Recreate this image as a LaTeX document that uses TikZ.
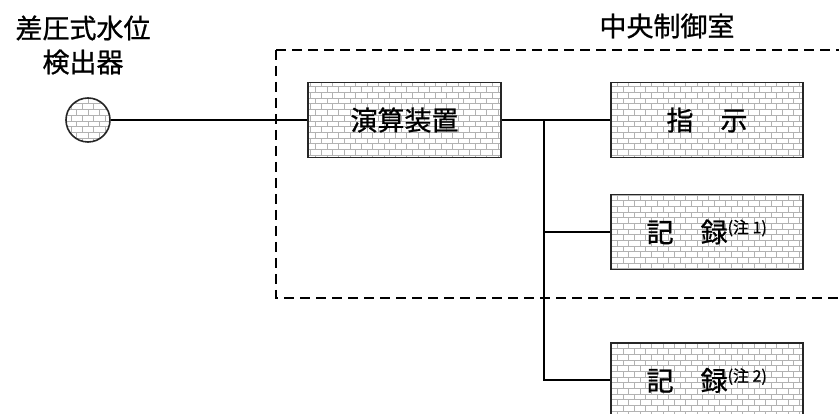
\documentclass[tikz,border=0pt]{standalone}
\usepackage{fontspec}
\setmainfont{Noto Sans CJK JP}[FakeBold=0.8]
\usepackage{tikz}
\usetikzlibrary{positioning, patterns}

\begin{document}
\begin{tikzpicture}[x=1pt, y=-1pt,
    every node/.style={font=\fontsize{27}{34}\selectfont},
    unit/.style={draw=black!85, line width=1.9pt, pattern=bricks, pattern color=black!30,
      minimum width=192pt, minimum height=75pt, inner sep=0pt},
    wire/.style={line width=1.8pt},
    room/.style={line width=1.8pt, dash pattern=on 10pt off 6pt}]
    \clip (0,0) rectangle (839,414);
    \fill[white] (0,0) rectangle (839,414);

    % detector and its label
    \node[draw=black!85, line width=1.6pt, circle, minimum size=44pt, inner sep=0pt,
      pattern=bricks, pattern color=black!30] (det) at (88,120) {};
    \node[align=center] (detlabel) at (83,45) {差圧式水位\\検出器};

    % central control room
    \draw[room] (276,50) -- (850,50);
    \draw[room] (276,50) -- (276,298) -- (850,298);
    \node (roomlabel) at (667,26) {中央制御室};

    % units
    \node[unit, minimum width=193pt] (calc) at (404.5,120) {演算装置};
    \node[unit] (ind) at (707,120) {指\hspace{1em}示};
    \node[unit] (rec1) at (707,232) {記\hspace{1em}録\textsuperscript{\fontsize{16}{16}\selectfont (注 1)}};
    \node[unit] (rec2) at (707,380.5) {記\hspace{1em}録\textsuperscript{\fontsize{16}{16}\selectfont (注 2)}};

    % connectors
    \coordinate (br) at (544,120);
    \coordinate (brEnd) at (544,380);
    \draw[wire] (det) -- (calc);
    \draw[wire] (calc.east) -- (br) -- (ind.west);
    \draw[wire] (br) -- (brEnd) -- (brEnd -| rec2.west);
    \draw[wire] (br |- rec1) -- (rec1.west);
\end{tikzpicture}
\end{document}
